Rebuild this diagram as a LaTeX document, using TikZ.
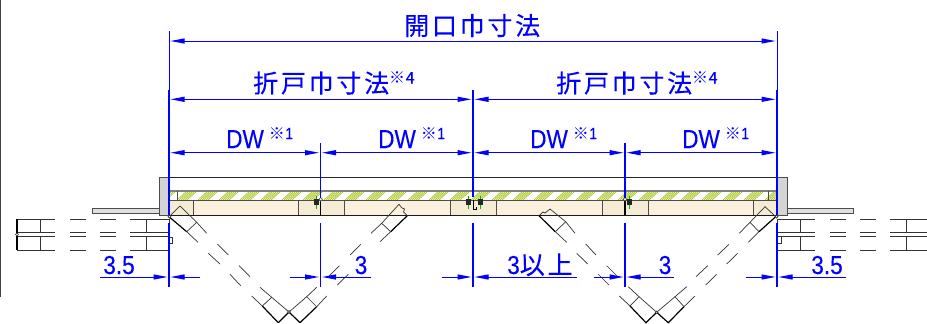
\documentclass[tikz,border=0pt]{standalone}
\usepackage{fontspec}
\setmainfont{Liberation Sans}[FakeStretch=0.87,FakeBold=0.25]
\newfontfamily\jpfont{Noto Sans CJK JP}[LetterSpace=11,FakeBold=0.25]
\newfontfamily\markfont{Noto Sans CJK JP}
\usetikzlibrary{arrows.meta}
\definecolor{doorcream}{HTML}{FBF1DE}
\definecolor{jambcream}{HTML}{F6ECD6}
\definecolor{hatchgreen}{HTML}{A6C81E}
\definecolor{wallgray}{HTML}{D4D4D4}
\newcommand{\notemark}[1]{\raisebox{9pt}{\fontsize{16}{16}\selectfont{\markfont\char"203B}\hspace{0.5pt}#1}}
\tikzset{
    dimline/.style={blue, line width=1pt, {Triangle[length=14pt,width=5pt]}-{Triangle[length=14pt,width=5pt]}, shorten <=1.5pt, shorten >=1.5pt},
    dimleft/.style={blue, line width=1pt, -{Triangle[length=14pt,width=5pt]}, shorten >=1.5pt},
    extline/.style={blue, line width=1.6pt},
    dimtext/.style={blue, inner sep=0pt, anchor=base, font=\fontsize{26}{26}\selectfont},
    jptext/.style={blue, inner sep=0pt, anchor=base west, font=\fontsize{25}{25}\selectfont\jpfont},
    thinpart/.style={black!80, line width=0.7pt},
    thickpart/.style={black, line width=1.2pt},
    panel/.style={draw=black!70, line width=0.9pt, fill=doorcream},
    jambpanel/.style={draw=black!70, line width=0.9pt, fill=jambcream},
    wallpost/.style={draw=black!70, line width=1pt, fill=wallgray},
    railstrip/.style={draw=black!70, line width=0.8pt, fill=black!12}
}
\begin{document}
\begin{tikzpicture}[x=1pt,y=-1pt]
    \useasboundingbox (0,0) rectangle (927,324);
    \draw[black!75, line width=1pt] (0.5,0) -- (0.5,297);

    % frame and glass band
    \draw[wallpost] (159,177) rectangle (169,215);
    \draw[wallpost] (777,177) rectangle (787,215);
    \draw[black!85, line width=1pt] (169,177) -- (777,177);
    \begin{scope}
        \clip (169,191) rectangle (777,200);
        \foreach \hx in {165,186,...,780}
            \foreach \hs in {0,2,...,10}
                \draw[hatchgreen, line width=0.7pt] (\hx+\hs-9,200) -- (\hx+\hs+1,191);
    \end{scope}
    \draw[black!50, line width=1.2pt] (169,191) -- (777,191);
    \draw[black!90, line width=1pt] (169,200) -- (777,200);
    \draw[black!70, line width=0.7pt] (177.7,191) -- (177.7,200);
    \draw[black!70, line width=0.7pt] (768,191) -- (768,200);

    % rails beside the posts
    \draw[railstrip] (92,208.5) rectangle (159,213);
    \draw[railstrip] (787,208.5) rectangle (853,213);

    % panels in the closed position
    \draw[panel] (169,200.7) rectangle (777,215);
    \draw[jambpanel] (169,200.7) rectangle (193,215);
    \draw[jambpanel] (298,200.7) rectangle (344,215);
    \draw[jambpanel] (450,200.7) rectangle (496,215);
    \draw[jambpanel] (602,200.7) rectangle (648,215);
    \draw[jambpanel] (753,200.7) rectangle (777,215);
    \draw[black!90, line width=1pt] (169,215) -- (777,215);

    % hinges
    \foreach \hingex in {320.5,625}
        \draw[black, line width=1.2pt] (\hingex,200) -- (\hingex,215);
    \draw[black, line width=1pt] (473,200) -- (473,209) -- (476,209) -- (476,207);
    \foreach \knobx in {316.5,468.3,480.7,629.3} {
        \draw[green!70!black, line width=0.8pt] (\knobx,195.5) -- (\knobx,208.5);
        \fill[black!85] (\knobx-2.3,198.5) rectangle (\knobx+2.3,205);
    }
    \foreach \ringx in {320.7,625}
        \draw[black!70, fill=white, line width=0.6pt] (\ringx,199.3) circle (1.8);

    % left stack, dashed in the open position
    \foreach \stacky in {219,232,236.7,250} {
        \foreach \dasha/\dashb in {40/55,70/85.5,100/116,130/146}
            \draw[thinpart] (\dasha,\stacky) -- (\dashb,\stacky);
        \foreach \dasha/\dashb in {800/815,830/846,860/876,890/906}
            \draw[thinpart] (\dasha,\stacky) -- (\dashb,\stacky);
    }
    \foreach \boxa/\boxb in {17/40,146/169,777/800,906/927} {
        \draw[thinpart] (\boxa,219) rectangle (\boxb,232);
        \draw[thinpart] (\boxa,236.7) rectangle (\boxb,250);
    }
    \draw[thickpart] (17,219) -- (17,250);
    \draw[thinpart] (169,237) rectangle (172,243);
    \draw[thinpart] (777,243) -- (781,243) -- (781,237);
    \draw[thinpart, fill=white] (17,234.5) circle (1.5);

    % first leaf pair
    \draw[thickpart] (169,216.7) -- (186.7,231.7);
    \draw[thinpart] (169,216.7) -- (180,206) -- (196.7,222.3) -- (186.7,231.7);
    \draw[thinpart] (196.7,222.3) -- (206.7,233.3);
    \draw[thinpart] (186.7,231.7) -- (198,242.3);
    \draw[thinpart] (217.3,244) -- (228.3,255);
    \draw[thinpart] (208.3,253.3) -- (220,264);
    \draw[thinpart] (239,265.7) -- (250,276.7);
    \draw[thinpart] (230,274.3) -- (240.7,285.7);
    \draw[thinpart] (260,287.3) -- (271.7,297.3) -- (289,312);
    \draw[thinpart] (251.7,296) -- (262.3,306);
    \draw[thickpart] (262.3,306) -- (278.3,322.7);
    \draw[thinpart] (262.3,306) -- (271.7,297.3);
    \draw[thickpart] (278.3,322.7) -- (289,312);
    \draw[thickpart] (289,312) -- (300,322.7);
    \draw[thickpart] (300,322.7) -- (316.7,306.7);
    \draw[thinpart] (316.7,306.7) -- (326.7,296);
    \draw[thinpart] (289,312) -- (306.7,296.7) -- (316.7,287.3);
    \draw[thinpart] (306.7,296.7) -- (316.7,306.7);
    \draw[thinpart] (337.3,285) -- (348.3,274.3);
    \draw[thinpart] (328.3,276.7) -- (339.3,265.7);
    \draw[thinpart] (350,255) -- (360.7,244.3);
    \draw[thinpart] (371,233.3) -- (381.7,223.3) -- (399,204.3);
    \draw[thinpart] (380,241.7) -- (390.7,231.7);
    \draw[thickpart] (390.7,231.7) -- (407.3,215.7);
    \draw[thinpart] (381.7,223.3) -- (390.7,231.7);
    \draw[thinpart] (399,204.3) -- (402,208) -- (404.5,209) -- (403.5,212) -- (407.3,215.7);

    % second leaf pair
    \draw[thinpart] (539,215.7) -- (543,212) -- (545,213) -- (550,209) -- (565.7,221.7) -- (575,233.3);
    \draw[thickpart] (539,215.7) -- (555.3,231.7);
    \draw[thinpart] (555.3,231.7) -- (566.7,242.3);
    \draw[thinpart] (555.3,231.7) -- (565.7,221.7);
    \draw[thinpart] (585.7,244) -- (596,255);
    \draw[thinpart] (576.7,253.3) -- (587.7,264);
    \draw[thinpart] (606.7,265.7) -- (617.7,276.7);
    \draw[thinpart] (598.3,274.3) -- (609,285);
    \draw[thinpart] (628.3,286.7) -- (639,296.7) -- (656.7,312.3);
    \draw[thinpart] (619.3,296) -- (630,306);
    \draw[thickpart] (630,306) -- (646,322.7) -- (656.7,312.3) -- (668.3,322.7) -- (684,306.7);
    \draw[thinpart] (630,306) -- (639,296.7);
    \draw[thinpart] (684,306.7) -- (695,296);
    \draw[thinpart] (656.7,312.3) -- (675,296.7) -- (686.7,286.7);
    \draw[thinpart] (675,296.7) -- (684,306.7);
    \draw[thinpart] (705.7,285) -- (716.7,274.3);
    \draw[thinpart] (696,276.7) -- (707.7,265.7);
    \draw[thinpart] (726.7,264) -- (737.7,253.3);
    \draw[thinpart] (717.7,255) -- (729,244.3);
    \draw[thinpart] (748.3,242.3) -- (759,231.7);
    \draw[thickpart] (759,231.7) -- (775.7,216.7);
    \draw[thinpart] (739.3,233.3) -- (750,222.3) -- (765,206.7) -- (775.7,216.7);
    \draw[thinpart] (750,222.3) -- (759,231.7);
    \draw[thinpart, fill=white] (169.5,216.7) circle (1.5);
    \draw[thinpart, fill=white] (776.5,216.7) circle (1.5);
    \draw[thinpart, fill=white] (289,312) circle (1.3);
    \draw[thinpart, fill=white] (656.7,312.3) circle (1.3);

    % extension lines
    \draw[extline, line width=1pt] (169,31) -- (169,90);
    \draw[extline, line width=1pt] (777,31) -- (777,90);
    \foreach \extx in {169,777}
        \draw[extline] (\extx,90) -- (\extx,215);
    \draw[extline] (473,90) -- (473,197);
    \draw[extline] (320.5,143) -- (320.5,198);
    \draw[extline] (625,143) -- (625,198);
    \foreach \extx in {169,320.5,473,625,777}
        \draw[extline] (\extx,223) -- (\extx,287);

    % dimension points
    \coordinate (openL) at (169,41);
    \coordinate (openR) at (777,41);
    \coordinate (foldA) at (169,99.3);
    \coordinate (foldB) at (473,99.3);
    \coordinate (foldC) at (777,99.3);
    \coordinate (dwA) at (169,152.7);
    \coordinate (dwB) at (320.5,152.7);
    \coordinate (dwC) at (473,152.7);
    \coordinate (dwD) at (625,152.7);
    \coordinate (dwE) at (777,152.7);
    \coordinate (lowA) at (169,277);
    \coordinate (lowB) at (320.5,277);
    \coordinate (lowC) at (473,277);
    \coordinate (lowD) at (625,277);
    \coordinate (lowE) at (777,277);

    \draw[dimline] (openL) -- (openR);
    \draw[dimline] (foldA) -- (foldB);
    \draw[dimline] (foldB) -- (foldC);
    \draw[dimline] (dwA) -- (dwB);
    \draw[dimline] (dwB) -- (dwC);
    \draw[dimline] (dwC) -- (dwD);
    \draw[dimline] (dwD) -- (dwE);

    % free ends of the lower arrows
    \foreach \tailname/\tailx in {tailA/100,tailB/200,tailC/290,tailD/371,tailE/442,tailF/577,tailG/594,tailH/674,tailI/746,tailJ/846}
        \coordinate (\tailname) at (\tailx,277);
    \draw[dimleft] (tailA) -- (lowA);
    \draw[dimleft] (tailB) -- (lowA);
    \draw[dimleft] (tailC) -- (lowB);
    \draw[dimleft] (tailD) -- (lowB);
    \draw[dimleft] (tailE) -- (lowC);
    \draw[dimleft] (tailF) -- (lowC);
    \draw[dimleft] (tailG) -- (lowD);
    \draw[dimleft] (tailH) -- (lowD);
    \draw[dimleft] (tailI) -- (lowE);
    \draw[dimleft] (tailJ) -- (lowE);

    % labels
    \node[jptext] (openlabel) at (404,35) {開口巾寸法};
    \node[jptext] (foldlabelA) at (253,92.5) {折戸巾寸法\notemark{4}};
    \node[jptext] (foldlabelB) at (556,92.5) {折戸巾寸法\notemark{4}};
    \foreach \dwname/\dwx in {dwlabelA/226,dwlabelB/378,dwlabelC/530,dwlabelD/682}
        \node[dimtext, anchor=base west] (\dwname) at (\dwx,148) {DW\hspace{5pt}\notemark{1}};
    \node[dimtext] (lowlabelA) at (119,274) {3.5};
    \node[dimtext] (lowlabelB) at (361,274) {3};
    \node[dimtext, anchor=base west] (lowlabelC) at (507,274) {3{\jpfont\fontsize{25}{25}\selectfont 以上}};
    \node[dimtext] (lowlabelD) at (665,274) {3};
    \node[dimtext] (lowlabelE) at (827,274) {3.5};
\end{tikzpicture}
\end{document}
